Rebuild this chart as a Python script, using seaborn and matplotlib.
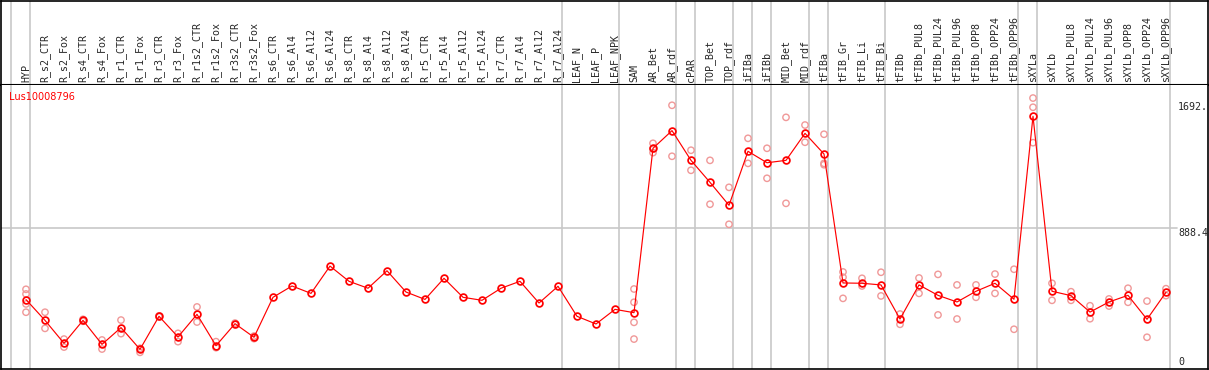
import matplotlib
matplotlib.use("Agg")
import matplotlib.pyplot as plt
import matplotlib.transforms as mtransforms
import numpy as np
import pandas as pd
import seaborn as sns

# sample names (one column each)
samples = [
    "HYP", "R_s2_CTR", "R_s2_Fox", "R_s4_CTR", "R_s4_Fox", "R_r1_CTR", "R_r1_Fox",
    "R_r3_CTR", "R_r3_Fox", "R_r1s2_CTR", "R_r1s2_Fox", "R_r3s2_CTR", "R_r3s2_Fox",
    "R_s6_CTR", "R_s6_Al4", "R_s6_Al12", "R_s6_Al24", "R_s8_CTR", "R_s8_Al4",
    "R_s8_Al12", "R_s8_Al24", "R_r5_CTR", "R_r5_Al4", "R_r5_Al12", "R_r5_Al24",
    "R_r7_CTR", "R_r7_Al4", "R_r7_Al12", "R_r7_Al24", "LEAF_N", "LEAF_P", "LEAF_NPK",
    "SAM", "AR_Bet", "AR_rdf", "cPAR", "TOP_Bet", "TOP_rdf", "iFIBa", "iFIBb",
    "MID_Bet", "MID_rdf", "tFIBa", "tFIB_Gr", "tFIB_Li", "tFIB_Bi", "tFIBb",
    "tFIBb_PUL8", "tFIBb_PUL24", "tFIBb_PUL96", "tFIBb_OPP8", "tFIBb_OPP24",
    "tFIBb_OPP96", "sXYLa", "sXYLb", "sXYLb_PUL8", "sXYLb_PUL24", "sXYLb_PUL96",
    "sXYLb_OPP8", "sXYLb_OPP24", "sXYLb_OPP96",
]

# mean expression per sample
means = [
    414, 276, 124, 276, 117, 228, 84, 303, 166, 316, 108, 254, 164,
    429, 504, 455, 636, 535, 489, 605, 464, 415, 555, 429, 409,
    489, 535, 391, 502, 303, 252, 349,
    327, 1417, 1534, 1337, 1191, 1039, 1397, 1321, 1337, 1516, 1379,
    524, 522, 511, 285, 511, 442, 398, 469, 522, 416,
    1629, 469, 440, 331, 398, 442, 283, 462,
]

# individual replicates per sample
replicates = [
    [482, 451, 385, 330], [330, 223], [152, 99], [283, 270], [146, 86],
    [278, 188], [91, 64], [300, 306], [190, 135], [365, 265], [135, 95],
    [248, 258], [155, 172],
    [], [], [], [], [], [], [], [], [], [], [], [], [], [], [], [], [], [], [],
    [484, 396, 263, 152], [1450, 1388, 1413], [1702, 1364], [1404, 1271],
    [1337, 1046], [1158, 913], [1483, 1317], [1417, 1218], [1622, 1052],
    [1571, 1457], [1510, 1317, 1308],
    [597, 562, 422], [555, 504], [595, 438], [318, 250], [557, 455], [581, 312],
    [511, 285], [511, 429], [583, 455], [615, 217],
    [1750, 1689, 1454], [522, 409], [466, 409], [373, 287], [418, 371],
    [489, 396], [404, 164], [486, 440],
]

# last column of each sample group (vertical separators)
group_ends = [-1, 0, 28, 31, 34, 35, 37, 38, 39, 41, 42, 45, 52, 53, 60]

gene_name = "Lus10008796"
tick_values = [1692, 888.4, 0]
tick_texts = ["1692.", "888.4", "0"]

df_mean = pd.DataFrame({"pos": np.arange(len(samples)), "value": means})
df_rep = pd.DataFrame({"pos": np.arange(len(samples)), "value": replicates})
df_rep = df_rep.explode("value").dropna()
df_rep["value"] = df_rep["value"].astype(float)
df_rep["pos"] = df_rep["pos"].astype(float)

sns.set_style("white")
plt.rcParams["font.family"] = ["DejaVu Sans"]

W, H = 1209, 370
fig = plt.figure(figsize=(W / 100, H / 100), dpi=100)
sep_px = 85
ax_lab = fig.add_axes([1 / W, (H - sep_px) / H, (W - 2) / W, sep_px / H - 0.5 / H])
ax = fig.add_axes([1 / W, 1.5 / H, (W - 2) / W, (H - sep_px - 1.5) / H])

x0, dx = 26, 19
xlim = ((1 - x0) / dx, (W - 1 - x0) / dx)
ppu = 6.63  # value units per pixel
ylim = ((362 - (H - 1.5)) * ppu, (362 - sep_px) * ppu)

grid_col = "#c8c8c8"
for a in (ax, ax_lab):
    a.set_xlim(*xlim)
    a.set_xticks([])
    a.set_yticks([])
    for e in group_ends:
        a.axvline(e + 0.2, color=grid_col, lw=1.2, zorder=0)
    for s in a.spines.values():
        s.set_color("black")
        s.set_linewidth(1.2)

ax_lab.set_ylim(0, 1)
ax_lab.spines["bottom"].set_linewidth(1.5)
ax.spines["top"].set_visible(False)

trans = mtransforms.blended_transform_factory(ax_lab.transData, ax_lab.transAxes)
for i, name in enumerate(samples):
    ax_lab.text(i, 0.03, name, rotation=90, ha="center", va="bottom",
                fontsize=7.2, family="DejaVu Sans Mono", transform=trans)

ax.set_ylim(*ylim)
ax.axhline(888.4, xmax=0.974, color=grid_col, lw=1.2, zorder=0)

sns.scatterplot(data=df_rep, x="pos", y="value", ax=ax, marker="o",
                facecolor="none", edgecolor="#f09898", linewidth=1.0, s=21,
                zorder=2, legend=False)
sns.lineplot(data=df_mean, x="pos", y="value", ax=ax, color="red", lw=0.85,
             marker="o", ms=4.9, mfc="none", mec="red", mew=1.25, zorder=3)
ax.set_xlabel("")
ax.set_ylabel("")
ax.set_xlim(*xlim)
ax.set_ylim(*ylim)

ax.text(-0.9, (362 - 97) * ppu, gene_name, color="red", fontsize=7,
        ha="left", va="center")
tx = (1178 - x0) / dx
for v, t in zip(tick_values, tick_texts):
    va = "top" if t == "888.4" else "center"
    ax.text(tx, v, t, ha="left", va=va, fontsize=7.2, family="DejaVu Sans Mono")

fig.savefig("out.png", dpi=100)
